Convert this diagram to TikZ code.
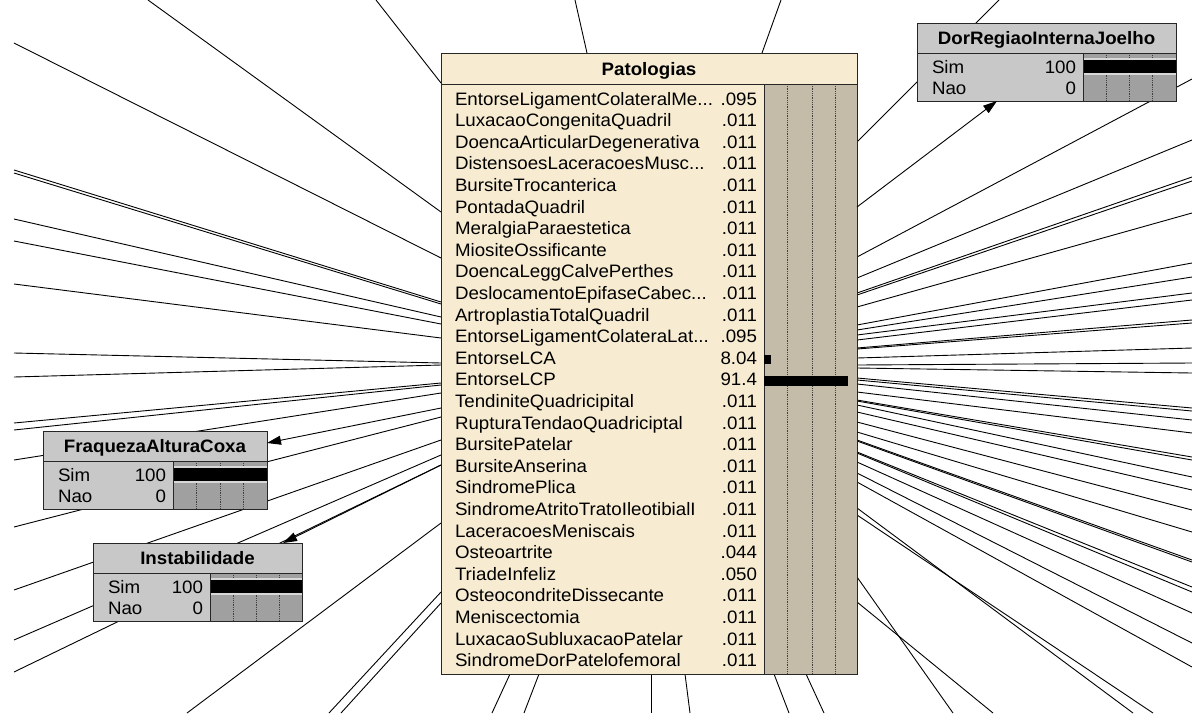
\documentclass[tikz,border=0pt]{standalone}
\usepackage{fontspec}
\setmainfont{Liberation Sans}[FakeStretch=1.04]
\usetikzlibrary{arrows.meta}
\pgfdeclarelayer{bg}
\pgfsetlayers{bg,main}
\definecolor{cream}{RGB}{247,236,209}
\definecolor{tanbar}{RGB}{196,188,168}
\definecolor{ngray}{RGB}{200,200,200}
\definecolor{bgray}{RGB}{160,160,160}
\definecolor{lgray}{RGB}{215,215,215}
\newcommand\tdots{...}
\tikzset{
  link/.style={draw=black, line width=0.9pt},
  arr/.style={link, -{Triangle[length=14pt,width=9pt]}},
  frame/.style={draw=black!85, line width=1pt},
  titletext/.style={anchor=base, font=\fontsize{18}{20}\selectfont\bfseries},
  rowtext/.style={anchor=base west},
  valtext/.style={anchor=base east},
  gridline/.style={densely dotted, black!75, line width=0.8pt}
}
% #1 name, #2 left, #3 top, #4 right, #5 divider, #6 title
\newcommand\bnode[6]{%
  \pgfmathsetmacro\bnW{#4-#2}%
  \pgfmathsetmacro\bnQ{(#4-#5)/4}%
  \node[frame, fill=ngray, minimum width=\bnW pt, minimum height=78pt, anchor=north west] (#1) at (#2,#3) {};
  \fill[bgray] (#5,#3+30) rectangle (#4,#3+78);
  \foreach \k in {1,2,3} \draw[gridline] (#5+\k*\bnQ,#3+30) -- (#5+\k*\bnQ,#3+78);
  \fill[lgray] (#5,#3+35) rectangle (#4,#3+37);
  \fill[black] (#5,#3+37) rectangle (#4,#3+50);
  \fill[lgray] (#5,#3+50) rectangle (#4,#3+52);
  \draw[frame] (#2,#3+30) -- (#4,#3+30);
  \draw[frame] (#5,#3+30) -- (#5,#3+78);
  \draw[frame] (#1.north west) rectangle (#1.south east);
  \node[titletext] (#1-title) at ({(#2+#4)/2},#3+21.5) {#6};
  \node[rowtext] (#1-s) at (#2+15,#3+50) {Sim};
  \node[valtext] (#1-sv) at (#5-7,#3+50) {100};
  \node[rowtext] (#1-n) at (#2+15,#3+71) {Nao};
  \node[valtext] (#1-nv) at (#5-7,#3+71) {0};
}
\begin{document}
\begin{tikzpicture}[x=1pt,y=-1pt, every node/.style={inner sep=0pt, outer sep=0pt, font=\fontsize{18}{20}\selectfont}]
\useasboundingbox (0,0) rectangle (1192,713);
\begin{pgfonlayer}{bg}
\fill[white] (0,0) rectangle (1192,713);
\end{pgfonlayer}

% ---------------- Patologias ----------------
\node[frame, fill=cream, minimum width=416pt, minimum height=621pt, anchor=north west] (pat) at (441,53) {};
\fill[tanbar] (764,84) rectangle (857,674);
\foreach \x in {787,812,835} \draw[gridline] (\x,84) -- (\x,674);
\draw[frame] (441,84) -- (857,84);
\draw[frame] (764,84) -- (764,674);
\draw[frame] (pat.north west) rectangle (pat.south east);
\node[titletext] (pat-title) at (649,75) {Patologias};
\foreach \n/\v [count=\i from 0] in {
  EntorseLigamentColateralMe\tdots/.095,
  LuxacaoCongenitaQuadril/.011,
  DoencaArticularDegenerativa/.011,
  DistensoesLaceracoesMusc\tdots/.011,
  BursiteTrocanterica/.011,
  PontadaQuadril/.011,
  MeralgiaParaestetica/.011,
  MiositeOssificante/.011,
  DoencaLeggCalvePerthes/.011,
  DeslocamentoEpifaseCabec\tdots/.011,
  ArtroplastiaTotalQuadril/.011,
  EntorseLigamentColateraLat\tdots/.095,
  EntorseLCA/8.04,
  EntorseLCP/91.4,
  TendiniteQuadricipital/.011,
  RupturaTendaoQuadriciptal/.011,
  BursitePatelar/.011,
  BursiteAnserina/.011,
  SindromePlica/.011,
  SindromeAtritoTratoIleotibialI/.011,
  LaceracoesMeniscais/.011,
  Osteoartrite/.044,
  TriadeInfeliz/.050,
  OsteocondriteDissecante/.011,
  Meniscectomia/.011,
  LuxacaoSubluxacaoPatelar/.011,
  SindromeDorPatelofemoral/.011}
{
  \node[rowtext] (pat-r\i) at (455,{105+21.6*\i}) {\n};
  \node[valtext] (pat-v\i) at (757,{105+21.6*\i}) {\v};
}
\fill[black] (764,355) rectangle (771,364);
\fill[black] (764,376) rectangle (848,386);

% ---------------- small nodes ----------------
\bnode{dor}{917}{23}{1176}{1083}{DorRegiaoInternaJoelho}
\bnode{fraq}{43}{431}{267}{173}{FraquezaAlturaCoxa}
\bnode{inst}{93}{543}{302}{210}{Instabilidade}

% ---------------- connectors ----------------
\begin{pgfonlayer}{bg}
% left side
\foreach \a/\bx/\by in {83/376/0, 212/148/0, 258/14/43, 302/14/170, 304/14/173,
  317/14/219, 324/14/241, 338/14/284, 363/14/353, 365/14/377, 383/14/423, 385/14/430,
  393/14/460, 417/14/527, 440/14/590, 455/14/640, 465/14/672, 523/187/713,
  592/329/713, 603/341/713}
  \draw[link] (pat.west |- 0,\a) -- (\bx,\by);
% top
\foreach \a/\bx in {587/575, 762/781}
  \draw[link] (pat.north -| \a,0) -- (\bx,0);
% bottom
\foreach \a/\bx in {510/492, 539/524, 651/651, 685/690, 774/789, 806/824}
  \draw[link] (pat.south -| \a,0) -- (\bx,713);
% right side
\foreach \a/\bx/\by in {142/999/0, 257/1192/79, 278/1192/140, 293/1192/177, 295/1192/181,
  307/1192/213, 325/1192/263, 330/1192/277, 335/1192/293, 340/1192/300,
  348/1192/320, 349/1192/323, 358/1192/348, 365/1192/363, 368/1192/373,
  378/1192/408, 380/1192/411, 384/1192/420, 392/1192/433, 400/1192/457, 401/1192/460,
  405/1192/477, 412/1192/490, 422/1192/510, 432/1192/532, 440/1192/560, 441/1192/562,
  452/1192/587, 453/1192/592, 462/1192/613, 473/1192/643, 482/1192/667,
  508/1133/713, 515/1153/713, 577/953/713, 602/993/713}
  \draw[link] (pat.east |- 0,\a) -- (\bx,\by);
\end{pgfonlayer}

% arrows
\draw[arr] (pat.east |- 0,207) -- (dor.south -| 997,0);
\draw[arr] (pat.west |- 0,408) -- (fraq.east |- 0,443);
\draw[arr] (pat.west |- 0,465) -- (inst.north -| 283,0);
\end{tikzpicture}
\end{document}
